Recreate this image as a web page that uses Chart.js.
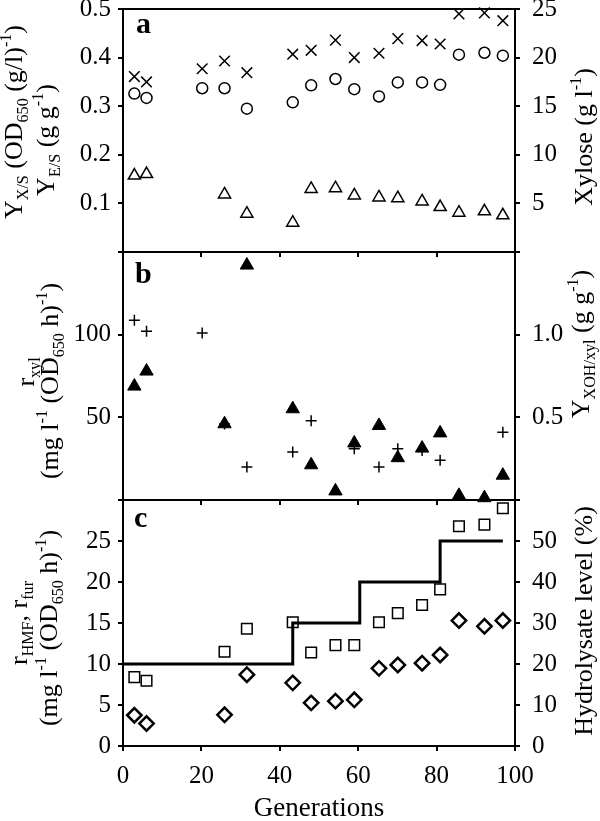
<!DOCTYPE html>
<html><head><meta charset="utf-8">
<script src="https://cdn.jsdelivr.net/npm/chart.js@4"></script>
<style>
html,body{margin:0;padding:0;background:#fff;}
#wrap{position:relative;width:600px;height:821px;background:#fff;}
canvas{position:absolute;left:0;top:0;}
</style></head><body>
<div id="wrap">
<canvas id="ca" width="600" height="821"></canvas>
<canvas id="cb" width="600" height="821"></canvas>
<canvas id="cc" width="600" height="821"></canvas>
</div>
<script>
// ---------- data ----------
const generations = [2.9, 6.0, 20.2, 25.9, 31.6, 43.3, 48.0, 54.2, 59.0, 65.3, 70.1, 76.3, 80.9, 85.7, 92.2, 96.9];

// panel a
const yieldXS = [0.361, 0.350, 0.377, 0.393, 0.369, 0.407, 0.415, 0.436, 0.400, 0.409, 0.439, 0.435, 0.428, 0.490, 0.492, 0.476];
const yieldES = [0.326, 0.317, 0.337, 0.337, 0.295, 0.308, 0.343, 0.356, 0.335, 0.320, 0.349, 0.349, 0.344, 0.406, 0.410, 0.404];
const xylose  = [7.86, 8.02, null, 5.92, 3.94, 3.02, 6.49, 6.56, 5.82, 5.61, 5.54, 5.20, 4.62, 4.04, 4.18, 3.78];

// panel b
const rXyl    = [68.8, 77.9, null, 46.0, 142.0, 55.1, 21.2, 5.4, 34.4, 45.0, 25.5, 31.3, 40.5, 2.7, 1.3, 14.9];
const yXOH    = [1.087, 1.02, 1.01, 0.46, 0.20, 0.29, 0.48, null, 0.31, 0.20, 0.31, 0.30, 0.24, null, null, 0.41];

// panel c
const rHMF    = [8.4, 7.96, null, 11.5, 14.3, 15.1, 11.4, 12.3, 12.3, 15.1, 16.2, 17.2, 19.1, 26.8, 27.0, 29.0];
const rFur    = [3.75, 2.74, null, 3.8, 8.7, 7.7, 5.26, 5.47, 5.63, 9.47, 9.88, 10.1, 11.1, 15.3, 14.6, 15.3];
const hydroGen   = [0, 43.3, 60.4, 80.9, 96.9];
const hydroLevel = [20, 30, 40, 50, 50];

// tick labels
const xTickLabels      = ['0', '20', '40', '60', '80', '100'];
const aLeftTickLabels  = ['0.1', '0.2', '0.3', '0.4', '0.5'];
const aRightTickLabels = ['5', '10', '15', '20', '25'];
const bLeftTickLabels  = ['50', '100'];
const bRightTickLabels = ['0.5', '1.0'];
const cLeftTickLabels  = ['0', '5', '10', '15', '20', '25'];
const cRightTickLabels = ['0', '10', '20', '30', '40', '50'];

// ---------- helpers ----------
const FONT = "'Liberation Serif','Times New Roman',serif";
Chart.defaults.font.family = FONT;
Chart.defaults.font.size = 25;
Chart.defaults.color = '#000';
Chart.defaults.animation = false;

const W = 600, H = 821, PLOT_LEFT = 123, PLOT_RIGHT = 515;

function pts(xs, ys) {
  const out = [];
  xs.forEach((x, i) => { if (ys[i] !== null) out.push({x: x, y: ys[i]}); });
  return out;
}

function yAxis(pos, min, max, step, labels, digits, pad) {
  return {
    type: 'linear', position: pos, min: min, max: max,
    ticks: {
      stepSize: step, padding: pad, color: '#000', font: {size: 25},
      callback: (v) => { const s = Number(v).toFixed(digits); return labels.includes(s) ? s : ''; }
    },
    grid: {display: true, drawOnChartArea: false, drawTicks: true, tickLength: 5, color: '#000', lineWidth: 2},
    border: {display: true, color: '#000', width: 2},
    afterFit: (s) => { s.width = pos === 'left' ? PLOT_LEFT : (W - PLOT_RIGHT); s.paddingTop = 0; s.paddingBottom = 0; }
  };
}

function xAxis(bottomPx, showLabels) {
  return {
    type: 'linear', position: 'bottom', min: 0, max: 100,
    ticks: {
      display: showLabels, stepSize: 20, padding: 10, color: '#000', font: {size: 25},
      maxRotation: 0, autoSkip: false,
      callback: (v) => { const s = String(v); return xTickLabels.includes(s) ? s : ''; }
    },
    grid: {display: true, drawOnChartArea: false, drawTicks: true, tickLength: 5, color: '#000', lineWidth: 2},
    border: {display: true, color: '#000', width: 2},
    afterFit: (s) => { s.height = H - bottomPx; s.paddingLeft = 0; s.paddingRight = 0; }
  };
}

function drawRich(ctx, segs, x, y, size, rotated) {
  ctx.save();
  ctx.translate(x, y);
  if (rotated) ctx.rotate(-Math.PI / 2);
  ctx.fillStyle = '#000';
  ctx.textBaseline = 'alphabetic';
  ctx.textAlign = 'left';
  const parts = segs.map(([t, k]) => {
    const fs = k ? size * 0.62 : size;
    ctx.font = fs + 'px ' + FONT;
    return {t: t, k: k, fs: fs, w: ctx.measureText(t).width};
  });
  const total = parts.reduce((a, p) => a + p.w, 0);
  let cx = -total / 2;
  parts.forEach(p => {
    ctx.font = p.fs + 'px ' + FONT;
    const dy = p.k < 0 ? size * 0.22 : (p.k > 0 ? -size * 0.42 : 0);
    ctx.fillText(p.t, cx, dy);
    cx += p.w;
  });
  ctx.restore();
}

function letter(ctx, t, x, y) {
  ctx.save();
  ctx.fillStyle = '#000';
  ctx.font = 'bold 30px ' + FONT;
  ctx.textBaseline = 'alphabetic';
  ctx.textAlign = 'left';
  ctx.fillText(t, x, y);
  ctx.restore();
}

const TS = 26;
const odSeg = [['(mg l', 0], ['-1', 1], [' (OD', 0], ['650', -1], [' h)', 0], ['-1', 1], [')', 0]];

function textPlugin(drawFn) {
  return {id: 'texts' + Math.random().toString(36).slice(2), afterDraw: (chart) => drawFn(chart.ctx, chart)};
}

function baseOptions(top, bottom, showX, scalesY) {
  return {
    responsive: false, animation: false,
    layout: {padding: {top: top, left: 0, right: 0, bottom: 0}},
    plugins: {legend: {display: false}, tooltip: {enabled: false}},
    events: [],
    scales: Object.assign({x: xAxis(bottom, showX)}, scalesY)
  };
}

const open = 'rgba(0,0,0,0)';

// ---------- panel a ----------
new Chart(document.getElementById('ca'), {
  type: 'scatter',
  data: {datasets: [
    {data: pts(generations, yieldXS), yAxisID: 'y', pointStyle: 'crossRot', pointRadius: 7.5, borderColor: '#000', backgroundColor: open, pointBorderWidth: 1.5, clip: false},
    {data: pts(generations, yieldES), yAxisID: 'y', pointStyle: 'circle', pointRadius: 5.5, borderColor: '#000', backgroundColor: open, pointBorderWidth: 1.5, clip: false},
    {data: pts(generations, xylose), yAxisID: 'y2', pointStyle: 'triangle', pointRadius: 7, borderColor: '#000', backgroundColor: open, pointBorderWidth: 1.5, clip: false}
  ]},
  options: baseOptions(7, 252, false, {
    y: yAxis('left', 0, 0.5, 0.1, aLeftTickLabels, 1, 7),
    y2: yAxis('right', 0, 25, 5, aRightTickLabels, 0, 12)
  }),
  plugins: [textPlugin((ctx, chart) => {
    const a = chart.chartArea;
    ctx.save(); ctx.strokeStyle = '#000'; ctx.lineWidth = 2;
    ctx.beginPath(); ctx.moveTo(a.left - 1, a.top); ctx.lineTo(a.right + 1, a.top); ctx.stroke(); ctx.restore();
    drawRich(ctx, [['Y', 0], ['X/S', -1], [' (OD', 0], ['650', -1], [' (g/l)', 0], ['-1', 1], [')', 0]], 22, 122, TS, true);
    drawRich(ctx, [['Y', 0], ['E/S', -1], [' (g g', 0], ['-1', 1], [')', 0]], 54, 140, TS, true);
    drawRich(ctx, [['Xylose (g l', 0], ['-1', 1], [')', 0]], 592, 137, TS, true);
    letter(ctx, 'a', 136, 33);
  })]
});

// ---------- panel b ----------
new Chart(document.getElementById('cb'), {
  type: 'scatter',
  data: {datasets: [
    {data: pts(generations, yXOH), yAxisID: 'y2', pointStyle: 'cross', pointRadius: 5.5, borderColor: '#000', backgroundColor: open, pointBorderWidth: 1.5, clip: false},
    {data: pts(generations, rXyl), yAxisID: 'y', pointStyle: 'triangle', pointRadius: 7.7, borderColor: '#000', backgroundColor: '#000', pointBorderWidth: 1, clip: false}
  ]},
  options: baseOptions(252, 500, false, {
    y: yAxis('left', 0, 150, 50, bLeftTickLabels, 0, 7),
    y2: yAxis('right', 0, 1.5, 0.5, bRightTickLabels, 1, 12)
  }),
  plugins: [textPlugin((ctx) => {
    drawRich(ctx, [['r', 0], ['xyl', -1]], 34, 372, TS, true);
    drawRich(ctx, odSeg, 58, 381, TS, true);
    drawRich(ctx, [['Y', 0], ['XOH/xyl', -1], [' (g g', 0], ['-1', 1], [')', 0]], 589, 344, TS, true);
    letter(ctx, 'b', 135, 283);
  })]
});

// ---------- panel c ----------
new Chart(document.getElementById('cc'), {
  type: 'scatter',
  data: {datasets: [
    {data: pts(generations, rHMF), yAxisID: 'y', pointStyle: 'rect', pointRadius: 7.5, borderColor: '#000', backgroundColor: open, pointBorderWidth: 1.5, clip: false},
    {data: pts(generations, rFur), yAxisID: 'y', pointStyle: 'rectRot', pointRadius: 7.2, borderColor: '#000', backgroundColor: open, pointBorderWidth: 2.5, clip: false},
    {data: pts(hydroGen, hydroLevel), yAxisID: 'y2', showLine: true, stepped: 'before', borderColor: '#000', borderWidth: 3, pointRadius: 0, fill: false, clip: false}
  ]},
  options: baseOptions(500, 746, true, {
    y: yAxis('left', 0, 30, 5, cLeftTickLabels, 0, 7),
    y2: yAxis('right', 0, 60, 10, cRightTickLabels, 0, 12)
  }),
  plugins: [textPlugin((ctx) => {
    drawRich(ctx, [['r', 0], ['HMF', -1], [', r', 0], ['fur', -1]], 27, 623, TS, true);
    drawRich(ctx, odSeg, 57, 628, TS, true);
    drawRich(ctx, [['Hydrolysate level (%)', 0]], 592, 621, TS, true);
    drawRich(ctx, [['Generations', 0]], 319, 816, 27, false);
    letter(ctx, 'c', 134, 527);
  })]
});
</script>
</body></html>
